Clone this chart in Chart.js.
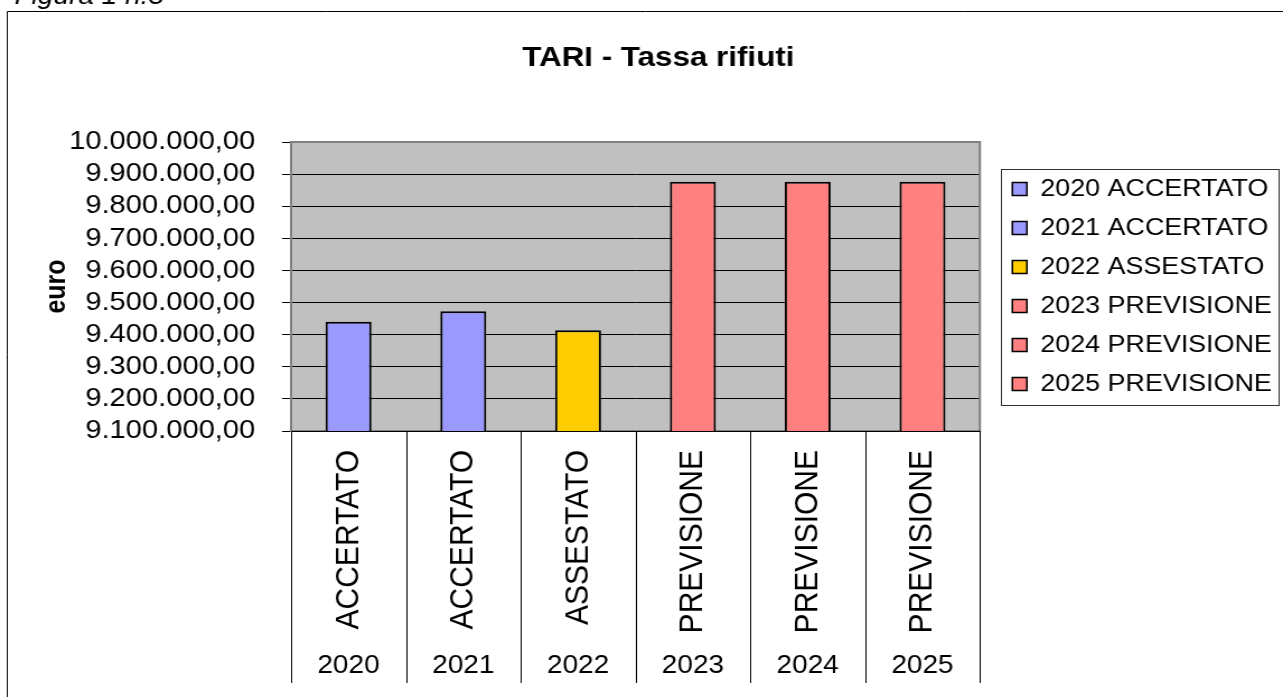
<!DOCTYPE html>
<html lang="it">
<head>
<meta charset="utf-8">
<title>TARI - Tassa rifiuti</title>
<script src="https://cdn.jsdelivr.net/npm/chart.js@4.4.1/dist/chart.umd.min.js"></script>
<style>
  html, body { margin: 0; padding: 0; background: #fff; overflow: hidden; }
</style>
</head>
<body>
<!-- il canvas e' allargato via CSS come nell'immagine originale -->
<canvas id="grafico" width="1146" height="697" style="display:block;width:1283px;height:697px"></canvas>
<script>
// Dati
const anni = ['2020', '2021', '2022', '2023', '2024', '2025'];
const stati = ['ACCERTATO', 'ACCERTATO', 'ASSESTATO', 'PREVISIONE', 'PREVISIONE', 'PREVISIONE'];
const valori = [9440000, 9473000, 9414000, 9876000, 9876000, 9876000];
const coloriBarre = ['#9999FF', '#9999FF', '#FFCC00', '#FF8080', '#FF8080', '#FF8080'];
const tickMin = 9100000;
const tickMax = 10000000;
const tickStep = 100000;
const titolo = 'TARI - Tassa rifiuti';
const didascalia = 'Figura 1 n.3';

const FONT = '"Liberation Sans", Arial, sans-serif';

/**
 * Formato italiano: 9.100.000,00
 */
function formatoEuro(v) {
    const intero = Math.round(v).toString().replace(/\B(?=(\d{3})+(?!\d))/g, '.');
    return intero + ',00';
}

// Sfondo, cornice, titolo e separatori dell'asse categorie
const decorPlugin = {
    id: 'decor',
    beforeDraw(chart) {
        const { ctx, chartArea: a } = chart;
        ctx.save();
        ctx.fillStyle = '#fff';
        ctx.fillRect(0, 0, chart.width, chart.height);

        // cornice esterna
        ctx.strokeStyle = '#000';
        ctx.lineWidth = 1;
        ctx.beginPath();
        ctx.moveTo(6.5, chart.height);
        ctx.lineTo(6.5, 11.5);
        ctx.lineTo(chart.width, 11.5);
        ctx.stroke();

        // didascalia tagliata in alto
        ctx.fillStyle = '#000';
        ctx.font = 'italic 25px ' + FONT;
        ctx.textBaseline = 'alphabetic';
        ctx.fillText(didascalia, 13, 4);

        // titolo
        ctx.font = 'bold 28px ' + FONT;
        ctx.textAlign = 'center';
        ctx.textBaseline = 'middle';
        ctx.fillText(titolo, 588, 58);

        // area del grafico
        ctx.fillStyle = '#C0C0C0';
        ctx.fillRect(a.left, a.top, a.right - a.left, a.bottom - a.top);
        ctx.restore();
    },
    beforeDatasetsDraw(chart) {
        const { ctx, chartArea: a } = chart;
        ctx.save();
        ctx.strokeStyle = '#808080';
        ctx.lineWidth = 2;
        ctx.strokeRect(a.left, a.top, a.right - a.left, a.bottom - a.top);
        ctx.restore();
    },
    afterDraw(chart) {
        const { ctx, chartArea: a } = chart;
        const x = chart.scales.x;
        const x2 = chart.scales.x2;
        const n = x.getLabels().length;
        const w = (x.right - x.left) / n;

        ctx.save();
        ctx.strokeStyle = '#000';
        ctx.lineWidth = 1;
        ctx.beginPath();
        ctx.moveTo(a.left, a.bottom + 0.5);
        ctx.lineTo(a.right, a.bottom + 0.5);
        for (let i = 0; i <= n; i++) {
            const px = Math.round(x.left + i * w) + 0.5;
            ctx.moveTo(px, a.bottom);
            ctx.lineTo(px, x2.bottom);
        }
        ctx.stroke();

        // riquadro della legenda
        const hb = chart.legend.legendHitBoxes;
        if (hb && hb.length) {
            const sx = hb[0].left - 10.5;
            const sy = hb[0].top - 8.5;
            const ex = Math.max(...hb.map(h => h.left + h.width)) + 6;
            const ey = hb[hb.length - 1].top + hb[hb.length - 1].height + 8;
            ctx.strokeStyle = '#333';
            ctx.strokeRect(Math.round(sx) + 0.5, Math.round(sy) + 0.5, Math.round(ex - sx), Math.round(ey - sy));
        }
        ctx.restore();
    }
};

new Chart(document.getElementById('grafico'), {
    type: 'bar',
    data: {
        labels: stati,
        datasets: [{
            data: valori,
            backgroundColor: coloriBarre,
            borderColor: '#000',
            borderWidth: 2,
            borderSkipped: false,
            barPercentage: 0.4,
            categoryPercentage: 1
        }]
    },
    options: {
        responsive: false,
        devicePixelRatio: 1,
        animation: false,
        layout: {
            padding: { top: 142, left: 8, right: 0, bottom: 14 }
        },
        plugins: {
            title: { display: false },
            tooltip: { enabled: false },
            legend: {
                position: 'right',
                align: 'center',
                fullSize: false,
                maxWidth: 400,
                labels: {
                    color: '#000',
                    font: { family: FONT, size: 24 },
                    boxWidth: 13,
                    boxHeight: 13,
                    padding: 15,
                    generateLabels: () => anni.map((anno, i) => ({
                        text: anno + ' ' + stati[i],
                        fillStyle: coloriBarre[i],
                        strokeStyle: '#000',
                        lineWidth: 1.5,
                        hidden: false,
                        index: i
                    }))
                }
            }
        },
        scales: {
            x: {
                position: 'bottom',
                grid: { display: false },
                border: { display: false },
                ticks: {
                    color: '#000',
                    font: { family: FONT, size: 30 },
                    minRotation: 90,
                    maxRotation: 90,
                    autoSkip: false,
                    padding: 11
                },
                afterFit: s => { s.height = 209; }
            },
            x2: {
                type: 'category',
                labels: anni,
                position: 'bottom',
                offset: true,
                grid: { display: false },
                border: { display: false },
                ticks: {
                    color: '#000',
                    font: { family: FONT, size: 25 },
                    padding: 3
                },
                afterFit: s => { s.height = 43; }
            },
            y: {
                min: tickMin,
                max: tickMax,
                ticks: {
                    stepSize: tickStep,
                    autoSkip: false,
                    callback: formatoEuro,
                    color: '#000',
                    font: { family: FONT, size: 26 },
                    padding: 24
                },
                grid: {
                    color: '#000',
                    lineWidth: 1,
                    drawTicks: true,
                    tickLength: 8
                },
                border: { display: false },
                title: {
                    display: true,
                    text: 'euro',
                    color: '#000',
                    font: { family: FONT, size: 25, weight: 'bold' },
                    padding: { top: 28, bottom: 0 }
                },
                afterFit: s => { s.width = 252; }
            },
            y2: {
                position: 'right',
                grid: { display: false },
                border: { display: false },
                ticks: { display: false },
                afterFit: s => { s.width = 14; }
            }
        }
    },
    plugins: [decorPlugin]
});
</script>
</body>
</html>
